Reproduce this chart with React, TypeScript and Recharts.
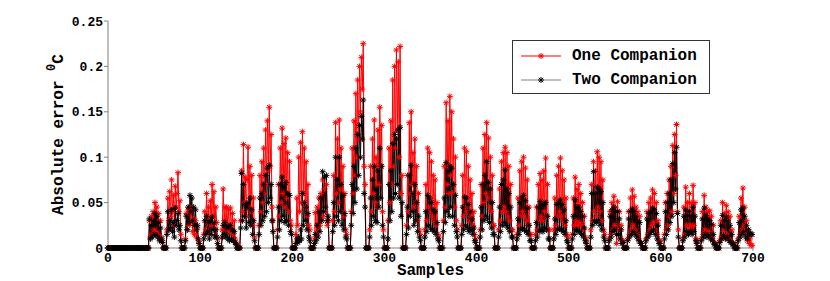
import { Legend, Line, LineChart, XAxis, YAxis } from "recharts";

document.body.style.margin = "0";

// absolute error per sample, in units of 0.001 degC
const oneCompanion = [
  0, 0, 0, 0, 0, 0, 0, 0, 0, 0, 0, 0, 0, 0, 0,
  0, 0, 0, 0, 0, 0, 0, 0, 0, 0, 0, 0, 0, 0, 0,
  0, 0, 0, 0, 0, 0, 0, 0, 0, 0, 0, 0, 0, 0, 0,
  30, 12, 35, 15, 40, 20, 50, 18, 45, 15, 38, 10, 30, 12, 8,
  0, 0, 0, 0, 20, 55, 30, 62, 35, 75, 40, 58, 25, 68, 45, 60, 83, 40, 52, 15,
  0, 0, 0, 0, 10, 38, 20, 42, 25, 45, 28, 40, 18, 32, 15, 30, 12, 22, 8, 5,
  0, 0, 0, 0, 15, 40, 20, 60, 28, 45, 15, 52, 25, 70, 35, 62, 20, 45, 28, 10,
  0, 0, 0, 0, 20, 65, 30, 45, 20, 45, 25, 42, 18, 44, 20, 38, 15, 30, 10, 5,
  0, 0, 0, 0, 30, 85, 40, 114, 50, 78, 35, 75, 111, 45, 90, 40, 80, 25, 55, 12,
  0, 0, 0, 0, 25, 80, 40, 95, 50, 110, 60, 130, 70, 140, 85, 155, 90, 125, 45, 30,
  0, 0, 0, 0, 20, 70, 35, 110, 50, 132, 60, 115, 45, 121, 55, 105, 40, 95, 30, 25,
  0, 0, 0, 0, 15, 55, 25, 100, 40, 116, 50, 128, 60, 110, 45, 95, 35, 70, 25, 20,
  0, 0, 0, 0, 10, 39, 15, 45, 20, 55, 25, 60, 30, 75, 35, 65, 40, 70, 25, 30,
  0, 0, 0, 0, 30, 80, 40, 138, 60, 120, 50, 141, 65, 110, 40, 90, 35, 60, 20, 15,
  0, 0, 0, 0, 40, 110, 60, 140, 80, 170, 100, 185, 120, 200, 150, 210, 175, 225, 90, 70,
  0, 0, 0, 0, 20, 90, 40, 120, 60, 141, 50, 100, 45, 130, 70, 155, 90, 135, 40, 20,
  0, 0, 0, 0, 30, 110, 50, 140, 70, 185, 90, 200, 110, 218, 130, 205, 100, 222, 60, 80,
  0, 0, 0, 0, 25, 80, 40, 138, 60, 150, 70, 105, 45, 120, 50, 90, 30, 60, 20, 15,
  0, 0, 0, 0, 20, 70, 30, 110, 45, 105, 40, 95, 35, 80, 30, 75, 25, 50, 15, 12,
  0, 0, 0, 0, 30, 90, 45, 160, 70, 140, 60, 167, 80, 150, 60, 120, 45, 100, 30, 20,
  0, 0, 0, 0, 25, 80, 35, 110, 45, 106, 40, 90, 30, 75, 35, 60, 25, 40, 15, 10,
  0, 0, 0, 0, 20, 70, 35, 110, 50, 125, 60, 138, 55, 121, 45, 100, 40, 80, 25, 25,
  0, 0, 0, 0, 20, 65, 30, 95, 40, 105, 45, 111, 40, 105, 35, 90, 30, 70, 20, 20,
  0, 0, 0, 0, 15, 55, 25, 85, 35, 95, 40, 100, 35, 88, 30, 75, 25, 45, 15, 15,
  0, 0, 0, 0, 15, 45, 20, 70, 30, 82, 35, 75, 30, 85, 40, 99, 35, 70, 20, 20,
  0, 0, 0, 0, 20, 55, 25, 80, 35, 90, 40, 99, 35, 85, 30, 75, 25, 55, 15, 12,
  0, 0, 0, 0, 15, 55, 25, 78, 30, 65, 25, 70, 28, 60, 25, 50, 20, 35, 12, 8,
  0, 0, 0, 0, 20, 70, 30, 95, 40, 85, 35, 106, 45, 100, 40, 95, 30, 75, 20, 15,
  0, 0, 0, 0, 10, 40, 15, 50, 20, 57, 25, 45, 5, 51, 20, 40, 10, 25, 5, 8,
  0, 0, 0, 0, 10, 40, 15, 55, 20, 64, 25, 57, 20, 45, 15, 40, 10, 35, 5, 5,
  0, 0, 0, 0, 10, 40, 15, 50, 20, 55, 25, 64, 28, 60, 20, 50, 15, 30, 8, 8,
  0, 0, 0, 0, 15, 50, 20, 60, 25, 75, 35, 90, 40, 113, 60, 125, 80, 136, 40, 20,
  0, 0, 0, 0, 10, 45, 15, 67, 25, 50, 20, 60, 25, 50, 20, 69, 25, 50, 10, 8,
  0, 0, 0, 0, 10, 40, 15, 58, 20, 45, 15, 40, 18, 41, 12, 35, 10, 25, 5, 5,
  0, 0, 0, 0, 8, 30, 12, 50, 18, 38, 12, 47, 15, 40, 10, 35, 8, 20, 5, 5,
  0, 0, 0, 0, 10, 35, 15, 55, 20, 66, 25, 45, 15, 30, 8, 20, 5, 10, 3, 3,
];

const twoCompanion = [
  0, 0, 0, 0, 0, 0, 0, 0, 0, 0, 0, 0, 0, 0, 0,
  0, 0, 0, 0, 0, 0, 0, 0, 0, 0, 0, 0, 0, 0, 0,
  0, 0, 0, 0, 0, 0, 0, 0, 0, 0, 0, 0, 0, 0, 0,
  32, 10, 25, 12, 30, 15, 38, 14, 35, 12, 28, 8, 22, 10, 6,
  0, 0, 0, 0, 15, 40, 20, 30, 22, 42, 18, 28, 12, 44, 25, 30, 38, 20, 25, 8,
  0, 0, 0, 0, 8, 35, 20, 45, 28, 58, 40, 55, 30, 45, 25, 42, 20, 25, 10, 5,
  0, 0, 0, 0, 10, 30, 15, 35, 18, 28, 10, 30, 15, 34, 20, 28, 12, 20, 12, 5,
  0, 0, 0, 0, 12, 25, 15, 28, 12, 22, 10, 24, 8, 25, 10, 20, 8, 18, 6, 4,
  0, 0, 0, 0, 22, 82, 30, 70, 35, 48, 22, 45, 50, 28, 55, 25, 42, 15, 30, 8,
  0, 0, 0, 0, 15, 55, 25, 60, 30, 70, 35, 80, 40, 88, 50, 91, 55, 70, 30, 18,
  0, 0, 0, 0, 12, 45, 20, 70, 30, 78, 35, 68, 28, 72, 30, 60, 25, 58, 18, 15,
  0, 0, 0, 0, 5, 10, 6, 12, 8, 20, 10, 60, 25, 50, 30, 45, 20, 38, 12, 8,
  0, 0, 0, 0, 5, 15, 8, 25, 12, 40, 18, 55, 30, 84, 40, 78, 45, 80, 30, 35,
  0, 0, 0, 0, 18, 50, 25, 100, 35, 75, 30, 100, 40, 70, 25, 58, 20, 38, 12, 10,
  0, 0, 0, 0, 25, 70, 38, 90, 50, 110, 65, 125, 80, 135, 100, 145, 120, 163, 60, 45,
  0, 0, 0, 0, 12, 55, 25, 75, 35, 90, 30, 65, 28, 85, 45, 110, 55, 90, 25, 12,
  0, 0, 0, 0, 10, 70, 30, 85, 40, 115, 55, 125, 60, 120, 70, 130, 55, 133, 35, 50,
  0, 0, 0, 0, 15, 45, 22, 80, 35, 91, 40, 60, 25, 70, 30, 50, 18, 35, 12, 8,
  0, 0, 0, 0, 12, 40, 18, 58, 25, 55, 22, 50, 20, 42, 18, 40, 15, 28, 10, 8,
  0, 0, 0, 0, 18, 55, 28, 94, 40, 85, 35, 90, 45, 88, 35, 70, 25, 58, 18, 12,
  0, 0, 0, 0, 15, 45, 20, 56, 25, 55, 22, 48, 18, 40, 20, 32, 15, 22, 8, 6,
  0, 0, 0, 0, 12, 45, 20, 70, 30, 80, 35, 95, 32, 72, 28, 65, 22, 50, 15, 15,
  0, 0, 0, 0, 12, 45, 18, 70, 25, 75, 28, 86, 25, 65, 22, 60, 18, 45, 12, 12,
  0, 0, 0, 0, 10, 32, 15, 50, 20, 55, 22, 58, 20, 52, 18, 44, 15, 25, 8, 8,
  0, 0, 0, 0, 8, 28, 12, 45, 18, 51, 20, 46, 18, 48, 22, 50, 20, 35, 10, 10,
  0, 0, 0, 0, 10, 32, 15, 48, 20, 50, 22, 53, 20, 48, 18, 42, 15, 30, 8, 6,
  0, 0, 0, 0, 10, 35, 15, 53, 20, 45, 18, 45, 18, 40, 15, 35, 12, 22, 8, 5,
  0, 0, 0, 0, 12, 60, 25, 84, 30, 60, 28, 67, 30, 65, 25, 62, 20, 50, 12, 8,
  0, 0, 0, 0, 8, 35, 12, 42, 18, 45, 20, 40, 15, 40, 15, 32, 10, 20, 5, 6,
  0, 0, 0, 0, 8, 32, 12, 40, 15, 43, 18, 40, 15, 35, 12, 30, 8, 28, 5, 5,
  0, 0, 0, 0, 8, 32, 12, 38, 15, 40, 18, 44, 20, 42, 15, 38, 10, 25, 5, 5,
  0, 0, 0, 0, 10, 40, 15, 50, 20, 60, 28, 75, 35, 93, 50, 105, 65, 111, 38, 12,
  0, 0, 0, 0, 8, 35, 12, 42, 18, 36, 15, 40, 18, 35, 15, 45, 18, 35, 8, 5,
  0, 0, 0, 0, 8, 32, 12, 44, 15, 36, 12, 32, 14, 30, 10, 26, 8, 15, 4, 4,
  0, 0, 0, 0, 6, 25, 10, 36, 14, 30, 10, 34, 12, 30, 8, 25, 6, 15, 4, 4,
  0, 0, 0, 0, 8, 28, 12, 42, 15, 44, 18, 35, 12, 25, 10, 20, 15, 16, 15, 15,
];

const xTicks = [0, 100, 200, 300, 400, 500, 600, 700];
const yTicks = [0, 0.05, 0.1, 0.15, 0.2, 0.25];

const data = oneCompanion.map((v, i) => ({
  sample: i,
  one: v / 1000,
  two: (twoCompanion[i] ?? 0) / 1000,
}));

const FONT = "'Liberation Mono', 'Courier New', monospace";
const AXIS = "#808080";

const star = (color: string) => (props: any) => {
  const { cx, cy, index } = props;
  if (cx == null || cy == null) return <g key={`s-${index}`} />;
  const r = 3;
  const d = 2.2;
  return (
    <g key={`s-${index}`} stroke={color} strokeWidth={1}>
      <line x1={cx - r} y1={cy} x2={cx + r} y2={cy} />
      <line x1={cx} y1={cy - r} x2={cx} y2={cy + r} />
      <line x1={cx - d} y1={cy - d} x2={cx + d} y2={cy + d} />
      <line x1={cx - d} y1={cy + d} x2={cx + d} y2={cy - d} />
    </g>
  );
};

function LegendBox() {
  const rows = [
    { name: "One Companion", color: "#ff0000" },
    { name: "Two Companion", color: "#000000" },
  ];
  return (
    <div
      style={{
        width: 196,
        height: 52,
        border: "1px solid #333",
        background: "#fff",
        boxSizing: "content-box",
        fontFamily: FONT,
        fontWeight: "bold",
        fontSize: 16,
      }}
    >
      {rows.map((r, i) => (
        <div key={r.name} style={{ display: "flex", alignItems: "center", height: 24, marginTop: i === 0 ? 3 : 0 }}>
          <svg width={52} height={12} style={{ marginLeft: 7 }}>
            <line x1={1} y1={6} x2={41} y2={6} stroke={i === 0 ? "#ff0000" : "#808080"} strokeWidth={1} />
            {star(r.color)({ cx: 21, cy: 6, index: i })}
          </svg>
          <span>{r.name}</span>
        </div>
      ))}
    </div>
  );
}

export default function App() {
  return (
    <LineChart
      width={830}
      height={281}
      data={data}
      margin={{ top: 21, right: 77, bottom: 0, left: 0 }}
      style={{ background: "#fff" }}
    >
      <XAxis
        dataKey="sample"
        type="number"
        domain={[0, 700]}
        ticks={xTicks}
        height={33}
        stroke={AXIS}
        tickSize={3}
        tick={{ fill: "#000", fontFamily: FONT, fontWeight: "bold", fontSize: 13 }}
        label={{
          value: "Samples",
          position: "insideBottom",
          offset: 6,
          fill: "#000",
          fontFamily: FONT,
          fontWeight: "bold",
          fontSize: 16,
        }}
      />
      <YAxis
        type="number"
        domain={[0, 0.25]}
        ticks={yTicks}
        width={108}
        stroke={AXIS}
        tickSize={4}
        tickMargin={1}
        tick={{ fill: "#000", fontFamily: FONT, fontWeight: "bold", fontSize: 13 }}
        label={{
          content: (p: any) => {
            const vb = p.viewBox;
            const cy = vb.y + vb.height / 2;
            const x = 63;
            return (
              <text
                x={x}
                y={cy}
                transform={`rotate(-90 ${x} ${cy})`}
                textAnchor="middle"
                fill="#000"
                fontFamily={FONT}
                fontWeight="bold"
                fontSize={16}
              >
                Absolute error{" "}
                <tspan fontSize={12} dy={-8}>
                  0
                </tspan>
                <tspan dy={8}>C</tspan>
              </text>
            );
          },
        }}
      />
      <Legend
        verticalAlign="middle"
        align="center"
        layout="horizontal"
        wrapperStyle={{ position: "absolute", left: 512, top: 40, width: 198 }}
        content={() => <LegendBox />}
      />
      <Line
        dataKey="one"
        type="linear"
        stroke="#ff0000"
        strokeWidth={1}
        dot={star("#ff0000")}
        activeDot={false}
        isAnimationActive={false}
      />
      <Line
        dataKey="two"
        type="linear"
        stroke="#000000"
        strokeWidth={1}
        dot={star("#000000")}
        activeDot={false}
        isAnimationActive={false}
      />
    </LineChart>
  );
}
